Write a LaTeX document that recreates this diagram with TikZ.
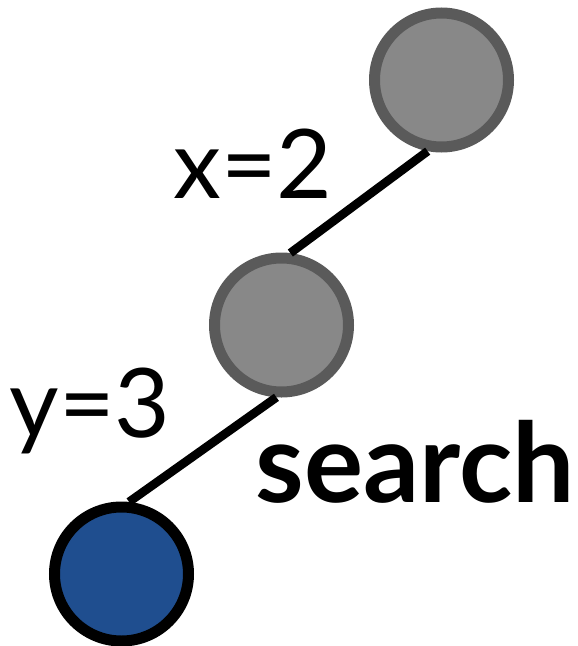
\documentclass[tikz,border=0pt]{standalone}
\usepackage{fontspec}
\setmainfont{Lato}
\definecolor{stonegray}{RGB}{136,136,136}
\definecolor{rimgray}{RGB}{90,90,90}
\definecolor{goalblue}{RGB}{31,78,143}
\usetikzlibrary{positioning}
\tikzset{
  state/.style={circle, inner sep=0pt, minimum size=100.5pt, line width=8.25pt},
  visited/.style={state, draw=rimgray, fill=stonegray},
  goal/.style={state, draw=black, fill=goalblue},
  edge/.style={line width=6.5pt, black},
  steplabel/.style={font=\fontsize{72}{80}\selectfont, anchor=base, inner sep=0pt}
}
\begin{document}
\begin{tikzpicture}[x=0.75pt,y=0.75pt,yscale=-1,xscale=1]
	\useasboundingbox (0,0) rectangle (578,646);
	
	% search path
	\node [visited] (root) at (441.5,80) {};
	\node [visited] (mid) at (281.5,325) {};
	\node [goal] (leaf) at (121.5,574) {};
	\draw [edge] (root.259) -- (mid.83);
	\draw [edge] (mid.266) -- (leaf.84);
	
	% Text Node
	\node [steplabel] (xlab) at (253,198) {x=2};
	% Text Node
	\node [steplabel] (ylab) at (90,437) {y=3};
	% Text Node
	\node [steplabel, font=\fontsize{83}{90}\selectfont\bfseries] (title) at (415.5,502) {search};
\end{tikzpicture}
\end{document}
